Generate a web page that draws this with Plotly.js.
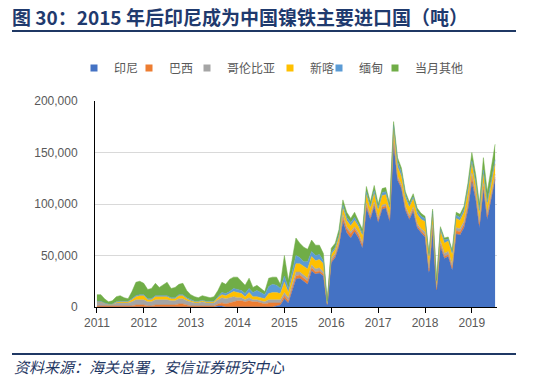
<!DOCTYPE html>
<html><head><meta charset="utf-8">
<script src="https://cdn.plot.ly/plotly-3.0.1.min.js"></script>
<style>html,body{margin:0;padding:0;background:#fff;}#chart{width:550px;height:382px;}</style>
</head><body><div id="chart"></div>
<script>
// Monthly categories, 2011-01 .. 2019-07
const months = [
 "2011-01","2011-02","2011-03","2011-04","2011-05","2011-06","2011-07","2011-08","2011-09","2011-10","2011-11","2011-12",
 "2012-01","2012-02","2012-03","2012-04","2012-05","2012-06","2012-07","2012-08","2012-09","2012-10","2012-11","2012-12",
 "2013-01","2013-02","2013-03","2013-04","2013-05","2013-06","2013-07","2013-08","2013-09","2013-10","2013-11","2013-12",
 "2014-01","2014-02","2014-03","2014-04","2014-05","2014-06","2014-07","2014-08","2014-09","2014-10","2014-11","2014-12",
 "2015-01","2015-02","2015-03","2015-04","2015-05","2015-06","2015-07","2015-08","2015-09","2015-10","2015-11","2015-12",
 "2016-01","2016-02","2016-03","2016-04","2016-05","2016-06","2016-07","2016-08","2016-09","2016-10","2016-11","2016-12",
 "2017-01","2017-02","2017-03","2017-04","2017-05","2017-06","2017-07","2017-08","2017-09","2017-10","2017-11","2017-12",
 "2018-01","2018-02","2018-03","2018-04","2018-05","2018-06","2018-07","2018-08","2018-09","2018-10","2018-11","2018-12",
 "2019-01","2019-02","2019-03","2019-04","2019-05","2019-06","2019-07"
];

const seriesNames = ["印尼","巴西","哥伦比亚","新喀","缅甸","当月其他"];
const seriesColors = ["#4472C4","#ED7D31","#A5A5A5","#FFC000","#5B9BD5","#70AD47"];

// Tonnes
const indonesia = [
 0,0,0,0,0,0,0,0,0,0,0,0,
 0,0,0,0,0,0,0,0,0,0,0,0,
 0,0,0,0,0,0,0,1000,1000,0,0,0,
 0,0,0,0,0,0,0,0,0,0,1000,2000,
 8000,4000,15000,27000,28000,25000,22000,35000,32000,33000,30000,2000,
 43000,48000,59000,83000,72000,67000,73000,67000,57000,96000,85000,98000,
 82000,95000,96000,83000,159000,123000,115000,94000,85000,93000,77000,72000,
 68000,33000,75000,16000,59000,47000,49000,36000,71000,70000,77000,94000,
 121000,104000,77000,114000,85000,105000,124000
];
const brazil = [
 1000,1000,500,500,500,1000,1000,1000,1000,1000,2000,2000,
 2000,1000,1000,2000,2000,2000,2000,2000,2000,3000,3000,2000,
 1000,1000,1000,1000,1000,1000,1000,2000,3000,3000,4000,5000,
 6000,6000,5000,6000,5000,5000,4000,3000,4000,4000,3000,2000,
 3000,2000,3000,3000,3000,3000,3000,3000,2000,2000,2000,500,
 2000,2000,2000,4000,4000,4000,3000,3000,3000,3000,2000,2000,
 2000,2000,2000,2000,3000,2000,2000,2000,2000,2000,2000,2000,
 2000,2000,2000,1000,2000,2000,2000,2000,3000,3000,3000,4000,
 6000,3000,3000,3000,3000,2000,2000
];
const colombia = [
 4000,4000,3000,2000,2000,3000,3000,3000,3000,4000,5000,5000,
 5000,4000,4000,5000,5000,5000,5000,4000,4000,5000,5000,4000,
 4000,3000,3000,4000,3000,3000,3000,4000,5000,5000,5000,5000,
 3000,3000,2000,3000,2000,2000,2000,2000,3000,3000,3000,3000,
 3000,3000,3000,4000,3000,3000,3000,3000,3000,3000,2000,500,
 2000,2000,2000,3000,2000,2000,2000,2000,2000,2000,2000,2000,
 2000,2000,2000,2000,3000,2000,2000,2000,2000,2000,2000,2000,
 3000,3000,3000,2000,3000,3000,3000,3000,3000,3000,3000,3000,
 3000,3000,3000,3000,3000,3000,3000
];
const newCaledonia = [
 0,0,0,0,0,500,1000,1000,1000,2000,3000,4000,
 4000,2000,2000,3000,3000,3000,3000,2000,2000,3000,3000,2000,
 1000,1000,1000,1000,1000,1000,1000,2000,3000,3000,4000,5000,
 5000,4000,3000,5000,3000,3000,3000,3000,6000,7000,7000,6000,
 10000,5000,7000,8000,8000,8000,9000,8000,8000,8000,8000,1000,
 4000,4000,5000,6000,6000,6000,6000,6000,7000,8000,7000,8000,
 8000,9000,9000,8000,8000,9000,8000,8000,8000,8000,9000,9000,
 10000,10000,10000,5000,10000,10000,10000,10000,9000,8000,9000,10000,
 9000,8000,8000,9000,8000,9000,10000
];
const myanmar = [
 500,500,500,300,300,500,500,500,500,1000,1000,1000,
 1000,1000,1000,1000,1000,1000,1000,1000,1000,1000,1000,1000,
 1000,500,500,500,500,500,500,1000,2000,2000,2000,3000,
 3000,3000,3000,4000,4000,6000,5000,4000,7000,8000,7000,5000,
 6000,4000,5000,8000,6000,5000,7000,5000,5000,5000,3000,500,
 2000,2000,2000,3000,3000,3000,3000,2000,2000,3000,2000,3000,
 2000,3000,3000,2000,4000,5000,4000,3000,2000,2000,3000,3000,
 3000,2000,3000,1000,2000,3000,2000,2000,3000,3000,3000,4000,
 3000,3000,3000,4000,3000,4000,4000
];
const others = [
 6500,6500,4000,2200,3200,5000,5500,3500,2500,7000,13000,13000,
 11000,9000,10000,12000,8000,11000,13000,9000,10000,10000,11000,7000,
 5000,4500,3500,4500,4500,3500,4500,6000,10000,9000,12000,11000,
 12000,9000,8000,10000,5000,5000,4000,3000,8000,7000,8000,4000,
 20000,8000,12000,17000,14000,14000,12000,11000,10000,9000,7000,1500,
 4000,4000,5000,5000,5000,4000,5000,4000,4000,5000,4000,5000,
 4000,4000,4000,3000,3000,4000,4000,3000,3000,3000,3000,3000,
 2000,2000,2000,1000,2000,2000,2000,2000,3000,3000,3000,5000,
 8000,7000,6000,12000,10000,12000,15000
];

const yTickVals = [0, 50000, 100000, 150000, 200000];

const seriesData = [indonesia, brazil, colombia, newCaledonia, myanmar, others];

// layout geometry (pixels)
const W = 550, H = 382, L = 95, R = 53, T = 101, B = 75;
const PW = W - L - R, PH = H - T - B;
const px2x = p => (p - L) / PW;
const px2y = p => (H - B - p) / PH;

const traces = [];
seriesData.forEach((vals, k) => {
  traces.push({
    type: "scatter", x: months, y: vals, name: seriesNames[k],
    stackgroup: "one", mode: "lines",
    line: {color: seriesColors[k], width: 0.5, shape: "linear"},
    fillcolor: seriesColors[k], showlegend: false, hoverinfo: "skip"
  });
});
// legend entries (square swatches)
const legendLeft = [74, 129, 187, 270, 319, 375];
seriesNames.forEach((n, k) => {
  traces.push({
    type: "scatter", x: [null], y: [null], name: n, mode: "markers",
    marker: {symbol: "square", size: 7, color: seriesColors[k]},
    legend: k === 0 ? "legend" : "legend" + (k + 1), showlegend: true, hoverinfo: "skip"
  });
});

const legendFont = {family: "Noto Sans CJK SC", size: 12, color: "#595959"};
const layout = {
  width: W, height: H,
  margin: {l: L, r: R, t: T, b: B, pad: 0},
  paper_bgcolor: "#fff", plot_bgcolor: "#fff",
  title: {
    text: "图 30：2015 年后印尼成为中国镍铁主要进口国（吨）",
    x: 12 / W, xanchor: "left", xref: "container",
    y: 1 - 18 / H, yanchor: "middle", yref: "container",
    font: {family: "Noto Sans CJK SC", size: 19, weight: 700, color: "#1F3A6E"}
  },
  xaxis: {
    type: "date", range: ["2010-12-17", "2019-07-16"],
    tick0: "2011-01-01", dtick: "M12", tickformat: "%Y",
    showgrid: false, showline: true, linecolor: "#000", linewidth: 1,
    ticks: "outside", ticklen: 5, tickcolor: "#000", tickwidth: 1,
    tickfont: {family: "Liberation Sans", size: 12, color: "#595959"},
    zeroline: false, fixedrange: true
  },
  yaxis: {
    range: [0, 200000], tickvals: yTickVals, tickformat: ",d",
    showgrid: true, gridcolor: "#D9D9D9", gridwidth: 1,
    showline: true, linecolor: "#000", linewidth: 1,
    ticks: "", ticklabelstandoff: 14,
    tickfont: {family: "Liberation Sans", size: 12, color: "#595959"},
    zeroline: false, fixedrange: true
  },
  shapes: [
    {type: "line", xref: "paper", yref: "paper", x0: px2x(12), x1: px2x(516), y0: px2y(31), y1: px2y(31),
     line: {color: "#1F3864", width: 2}},
    {type: "line", xref: "paper", yref: "paper", x0: px2x(12), x1: px2x(516), y0: px2y(354), y1: px2y(354),
     line: {color: "#1F3864", width: 2}}
  ],
  annotations: [
    {text: "资料来源：海关总署，安信证券研究中心", xref: "paper", yref: "paper",
     x: px2x(12), y: px2y(366), xanchor: "left", yanchor: "middle", showarrow: false,
     font: {family: "Noto Sans CJK SC", size: 15, style: "italic", color: "#1F3864"}}
  ],
  showlegend: true
};
legendLeft.forEach((lx, k) => {
  const key = k === 0 ? "legend" : "legend" + (k + 1);
  layout[key] = {
    x: lx / W, xref: "container", xanchor: "left",
    y: 1 - 68 / H, yref: "container", yanchor: "middle",
    orientation: "h", font: legendFont, bgcolor: "rgba(0,0,0,0)",
    borderwidth: 0, itemwidth: 30
  };
});

Plotly.newPlot("chart", traces, layout, {displayModeBar: false, staticPlot: true});
</script>
</body></html>
